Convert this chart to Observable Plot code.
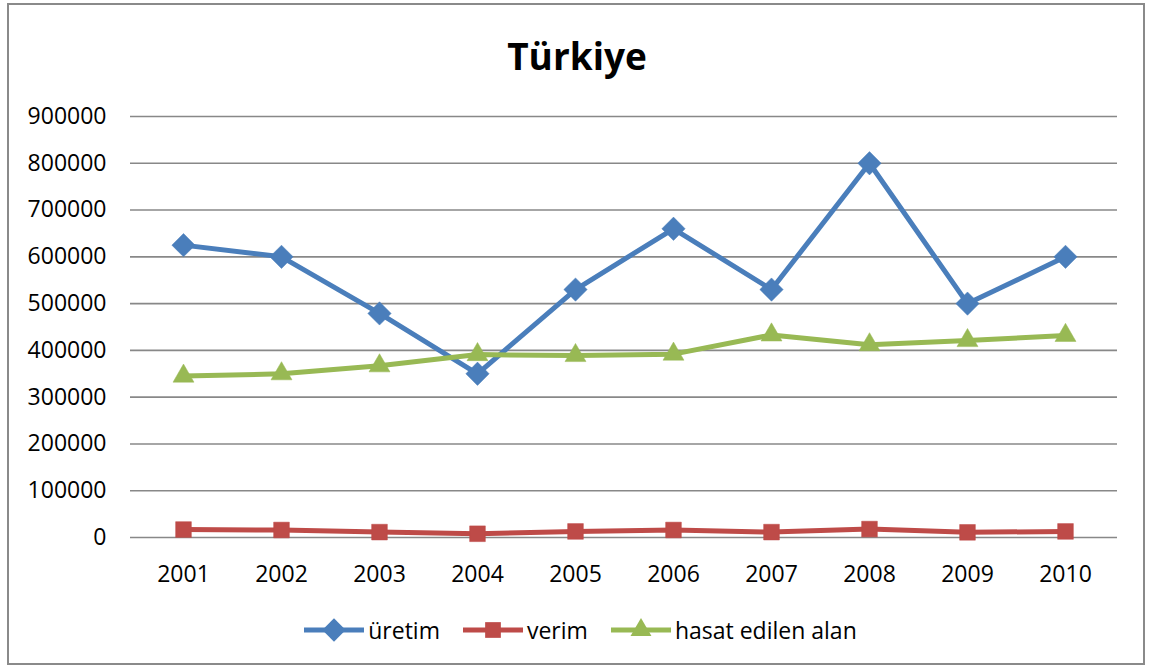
<!DOCTYPE html>
<html>
<head>
<meta charset="utf-8">
<script src="https://cdn.jsdelivr.net/npm/d3@7"></script>
<script src="https://cdn.jsdelivr.net/npm/@observablehq/plot@0.6"></script>
<style>
  html, body { margin: 0; padding: 0; background: #fff; }
  #chart { position: relative; width: 1152px; height: 668px; overflow: hidden; font-family: "Open Sans", sans-serif; }
  #frame { position: absolute; left: 7px; top: 3px; width: 1138px; height: 662px; border: 2px solid #8a8a8a; box-sizing: border-box; }
  #title { position: absolute; left: 0; width: 1154px; top: 28px; text-align: center; font-size: 37px; font-weight: 700; line-height: 56px; color: #000; }
  #plot { position: absolute; left: 0; top: 90px; }
  #legend { position: absolute; left: 0; top: 612px; width: 1160px; display: flex; justify-content: center; font-size: 23px; color: #000; line-height: 36px; }
  .item { display: flex; align-items: center; margin: 0 11px; }
  .item svg { margin-right: 3px; }
</style>
</head>
<body>
<div id="chart">
  <div id="frame"></div>
  <div id="title">Türkiye</div>
  <div id="plot"></div>
  <div id="legend"></div>
</div>
<script>
const years = ["2001","2002","2003","2004","2005","2006","2007","2008","2009","2010"];
const uretim = [625000, 600000, 479000, 350000, 530000, 660000, 530000, 800000, 500000, 600000];
const verim = [17000, 16000, 11500, 8000, 13000, 16000, 11500, 18000, 11000, 13000];
const hasat = [345000, 350000, 367000, 391000, 389000, 392000, 433000, 412000, 421000, 432000];
const seriesNames = ["üretim", "verim", "hasat edilen alan"];
const seriesColors = ["#4a7ebb", "#be4b48", "#98b954"];
const seriesSymbols = ["diamond2", "square2", "triangle2"];
const yTicks = [0, 100000, 200000, 300000, 400000, 500000, 600000, 700000, 800000, 900000];

const seriesValues = [uretim, verim, hasat];
const data = [];
seriesNames.forEach((name, s) => {
  years.forEach((yr, i) => data.push({series: name, year: yr, value: seriesValues[s][i]}));
});

const rs = {"üretim": 10.5, "verim": 10, "hasat edilen alan": 10};

const marks = [
  Plot.ruleY(yTicks, {stroke: "#888888", strokeWidth: 1.6})
];
seriesNames.forEach((name, s) => {
  const d = data.filter(r => r.series === name);
  marks.push(Plot.line(d, {x: "year", y: "value", stroke: seriesColors[s], strokeWidth: 5, strokeLinejoin: "round"}));
  marks.push(Plot.dot(d, {x: "year", y: "value", symbol: () => seriesSymbols[s], fill: seriesColors[s], stroke: seriesColors[s], strokeWidth: 0.5, r: rs[name]}));
});

const chart = Plot.plot({
  width: 1152,
  height: 520,
  marginTop: 26,
  marginBottom: 73,
  marginLeft: 130,
  marginRight: 35,
  style: {fontFamily: "'Open Sans', sans-serif", fontSize: "23px", color: "#000", background: "transparent"},
  x: {type: "point", domain: years, padding: 0.5, label: null, tickSize: 0, tickPadding: 28},
  y: {domain: [0, 900000], ticks: yTicks, tickFormat: d => String(d), label: null, tickSize: 0, tickPadding: 24},
  symbol: {type: "identity"},
  marks
});
document.getElementById("plot").appendChild(chart);

const legend = document.getElementById("legend");
seriesNames.forEach((name, s) => {
  const item = document.createElement("div");
  item.className = "item";
  const sym = d3.symbol(s === 0 ? d3.symbolDiamond2 : s === 1 ? d3.symbolSquare2 : d3.symbolTriangle2, Math.PI * rs[name] * rs[name])();
  item.innerHTML = `<svg width="62" height="26"><line x1="1" x2="61" y1="13" y2="13" stroke="${seriesColors[s]}" stroke-width="5"/><path transform="translate(31,13)" d="${sym}" fill="${seriesColors[s]}"/></svg><span>${name}</span>`;
  legend.appendChild(item);
});
</script>
</body>
</html>
